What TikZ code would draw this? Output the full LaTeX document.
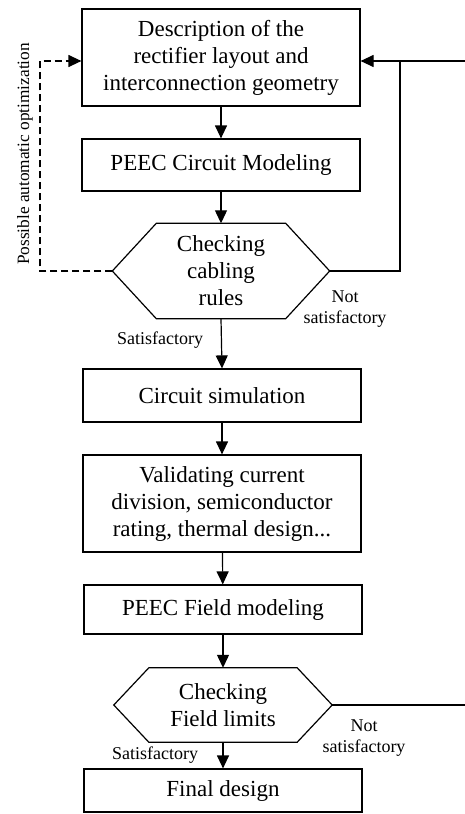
\documentclass[tikz,border=0pt]{standalone}
\usepackage{fontspec}
\setmainfont{Liberation Serif}
\usetikzlibrary{arrows.meta,calc}
\begin{document}
\begin{tikzpicture}[x=1pt,y=-1pt,
  lw/.style={line width=1.2pt},
  arr/.style={lw,-{Triangle[length=13pt,width=12pt]}},
  dasharr/.style={lw,dash pattern=on 7pt off 4pt,-{Triangle[length=13pt,width=12pt]}},
  stepbox/.style={draw,lw,rectangle,minimum width=278pt,inner sep=0pt,align=center,
    font=\fontsize{23}{27}\selectfont},
  hexnode/.style={rectangle,inner sep=0pt,align=center,font=\fontsize{23}{27}\selectfont},
  lbl/.style={inner sep=0pt,align=center,font=\fontsize{18}{21}\selectfont}]
\useasboundingbox (0,0) rectangle (465,814);

\node[stepbox,minimum height=97pt] (b1) at (221,57.5) {Description of the\\rectifier layout and\\interconnection geometry};
\node[stepbox,minimum height=52pt] (b2) at (221,165) {PEEC Circuit Modeling};
\node[hexnode,minimum width=217pt,minimum height=95pt] (h1) at (221,271) {Checking\\cabling\\rules};
\node[stepbox,minimum height=53pt] (b3) at (222,395.5) {Circuit simulation};
\node[stepbox,minimum height=97pt] (b4) at (222,503.5) {Validating current\\division, semiconductor\\rating, thermal design...};
\node[stepbox,minimum height=49pt] (b5) at (223,609.5) {PEEC Field modeling};
\node[hexnode,minimum width=218pt,minimum height=74pt] (h2) at (223,705) {Checking\\Field limits};
\node[stepbox,minimum height=43pt] (b6) at (223,790.5) {Final design};

% hexagons
\draw[lw] (h1.west) -- ($(h1.north west)+(44,0)$) -- ($(h1.north east)+(-44,0)$) -- (h1.east)
  -- ($(h1.south east)+(-44,0)$) -- ($(h1.south west)+(44,0)$) -- cycle;
\draw[lw] (h2.west) -- ($(h2.north west)+(35,0)$) -- ($(h2.north east)+(-35,0)$) -- (h2.east)
  -- ($(h2.south east)+(-35,0)$) -- ($(h2.south west)+(35,0)$) -- cycle;

% main flow
\draw[arr] (b1) -- (b2);
\draw[arr] (b2) -- (h1);
\draw[arr] (h1.south) -- (b3.north);
\draw[arr] (b3) -- (b4);
\draw[arr] (b4) -- (b5);
\draw[arr] (b5) -- (h2);
\draw[arr] (h2.south) -- (b6.north);

% feedback right
\coordinate (rin) at (465,61);
\coordinate (rv) at (400,61);
\coordinate (b1e) at (b1.east |- rin);
\draw[arr] (rin) -- (b1e);
\draw[lw] (h1.east) -- (h1.east -| rv) -- (rv);
\coordinate (r2) at (465,705);
\draw[lw] (h2.east) -- (r2);

% dashed optimisation loop
\coordinate (dl) at (40,61);
\coordinate (b1w) at (b1.west |- dl);
\draw[dasharr] (h1.west) -- (h1.west -| dl) -- (dl) -- (b1w);

% labels
\node[lbl] (s1) at (160,340) {Satisfactory};
\node[lbl] (n1) at (345,309) {Not\\satisfactory};
\node[lbl] (s2) at (155,755) {Satisfactory};
\node[lbl] (n2) at (364,738) {Not\\satisfactory};
\node[lbl,rotate=90,font=\fontsize{17.3}{20}\selectfont] (opt) at (25,154) {Possible automatic optimization};
\end{tikzpicture}
\end{document}
